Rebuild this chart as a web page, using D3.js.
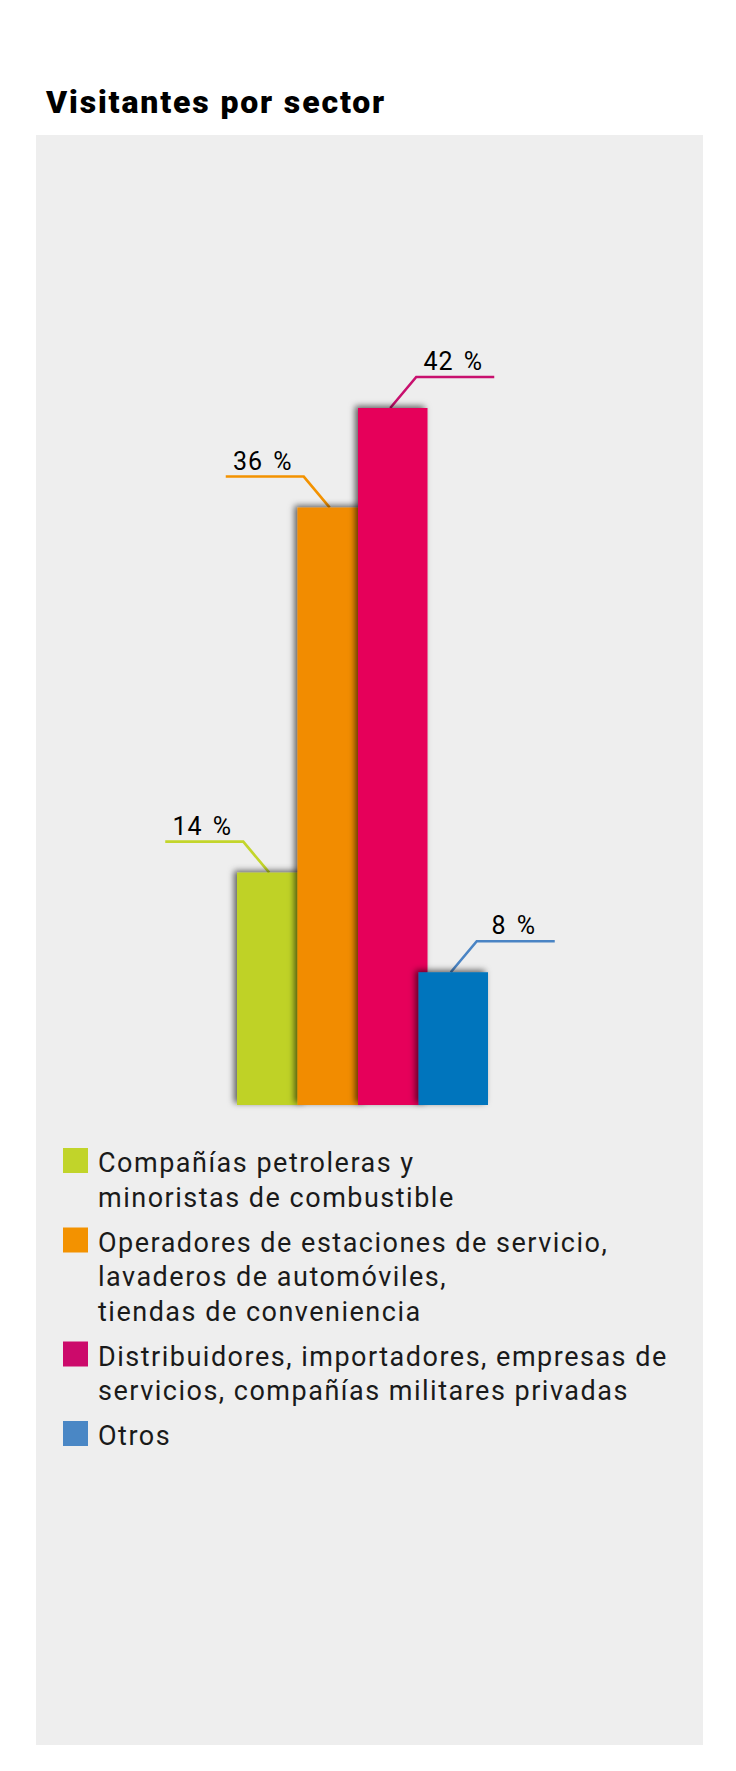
<!DOCTYPE html>
<html>
<head>
<meta charset="utf-8">
<script src="https://cdn.jsdelivr.net/npm/d3@7"></script>
<style>
  body { margin: 0; background: #fff; }
  svg { display: block; }
</style>
</head>
<body>
<svg id="chart" width="736" height="1771"></svg>
<script>
// chart values
let title = "Visitantes por sector";
let sectors = ["petroleras", "estaciones", "distribuidores", "otros"];
let shares = [14, 36, 42, 8];
let legendLines = [
  ["Compañías petroleras y", "minoristas de combustible"],
  ["Operadores de estaciones de servicio,", "lavaderos de automóviles,", "tiendas de conveniencia"],
  ["Distribuidores, importadores, empresas de", "servicios, compañías militares privadas"],
  ["Otros"]
];
let barColors = ["#bfd225", "#f28c00", "#e6005a", "#0075bd"];
let keyColors = ["#c1d42a", "#f39200", "#cc0a6b", "#4a87c5"];
let leaderColors = ["#c3d52b", "#f39200", "#c8106e", "#4a84c4"];

let svg = d3.select("#chart");
let textColor = "#1a1a1a";

// gray panel
svg.append("rect")
  .attr("x", 36).attr("y", 135)
  .attr("width", 667).attr("height", 1610)
  .attr("fill", "#eeeeee");

svg.append("text")
  .attr("x", 46).attr("y", 113)
  .attr("font-family", "Roboto, sans-serif")
  .attr("font-weight", 900)
  .attr("font-size", 32)
  .attr("letter-spacing", 1.85)
  .attr("fill", "#000")
  .text(title);

// shadow for the bars, falls up and left
let defs = svg.append("defs");
defs.append("filter")
  .attr("id", "barShadow")
  .attr("x", "-30%").attr("y", "-10%")
  .attr("width", "160%").attr("height", "120%")
  .append("feDropShadow")
  .attr("dx", -3).attr("dy", -2)
  .attr("stdDeviation", 3)
  .attr("flood-color", "#000")
  .attr("flood-opacity", 0.6);

let xScale = d3.scaleBand()
  .domain(sectors)
  .range([237, 479])
  .padding(0);

let yScale = d3.scaleLinear()
  .domain([0, 42])
  .range([1105, 408]);

// each bar runs a bit under its right-hand neighbour
let overlap = 9;
let barW = xScale.bandwidth() + overlap;

let rows = sectors.map((s, i) => ({ key: s, value: shares[i], i: i }));

// leader lines: first half points left, second half right
let rise = 31, elbow = 26, run = 78;
function side(d) { return d.i < sectors.length / 2 ? -1 : 1; }
function attachX(d) { return xScale(d.key) + xScale.bandwidth() / 2 + 2; }

svg.append("g").selectAll("path")
  .data(rows)
  .enter().append("path")
  .attr("d", d => {
    let x0 = attachX(d), y0 = yScale(d.value);
    let x1 = x0 + side(d) * elbow, y1 = y0 - rise;
    let x2 = x1 + side(d) * run;
    return d3.line()([[x0, y0], [x1, y1], [x2, y1]]);
  })
  .attr("fill", "none")
  .attr("stroke", d => leaderColors[d.i])
  .attr("stroke-width", 2.6);

svg.append("g").selectAll("text")
  .data(rows)
  .enter().append("text")
  .attr("x", d => attachX(d) + side(d) * (elbow + run / 2) - 2)
  .attr("y", d => yScale(d.value) - rise - 7)
  .attr("text-anchor", "middle")
  .attr("font-family", "Roboto, sans-serif")
  .attr("font-size", 25)
  .attr("letter-spacing", 1)
  .attr("word-spacing", 3)
  .attr("fill", "#000")
  .text(d => d.value + " %");

svg.append("g").selectAll("rect")
  .data(rows)
  .enter().append("rect")
  .attr("x", d => xScale(d.key))
  .attr("y", d => yScale(d.value))
  .attr("width", barW)
  .attr("height", d => yScale(0) - yScale(d.value))
  .attr("fill", d => barColors[d.i])
  .attr("filter", "url(#barShadow)");

// legend
let lineH = 34.5, entryGap = 10.5;
let legend = svg.append("g");
let base = 1172;
legendLines.forEach((lines, i) => {
  legend.append("rect")
    .attr("x", 63).attr("y", base - 24)
    .attr("width", 25).attr("height", 25)
    .attr("fill", keyColors[i]);
  let t = legend.append("text")
    .attr("font-family", "Roboto, sans-serif")
    .attr("font-size", 27)
    .attr("letter-spacing", 1.5)
    .attr("fill", textColor);
  lines.forEach((ln, j) => {
    t.append("tspan").attr("x", 98).attr("y", base + j * lineH).text(ln);
  });
  base += lines.length * lineH + entryGap;
});
</script>
</body>
</html>
